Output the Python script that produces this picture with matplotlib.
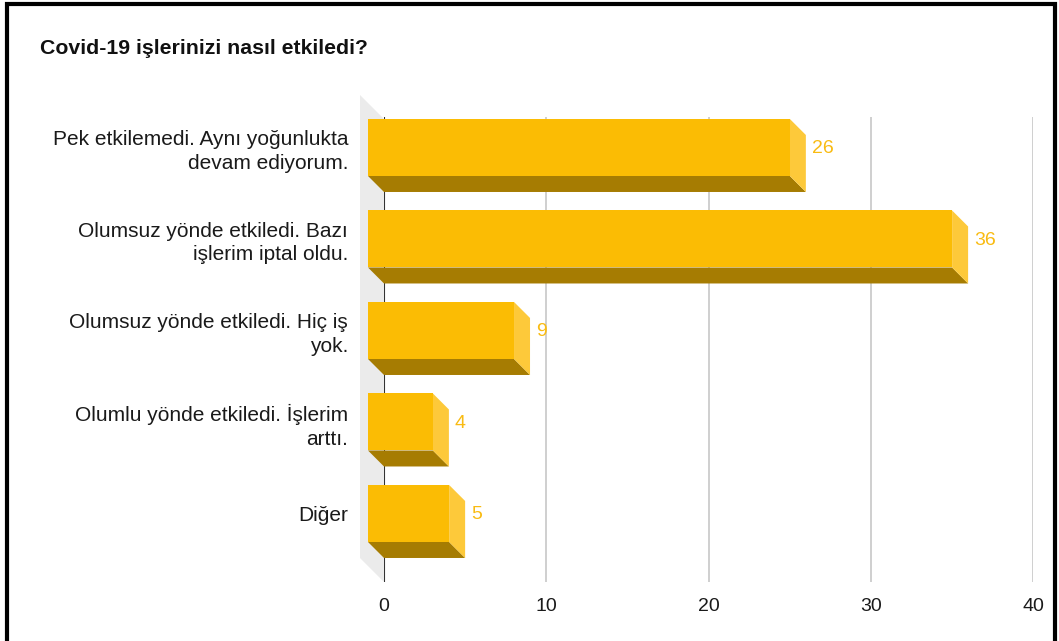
import matplotlib
matplotlib.use("Agg")
import matplotlib.pyplot as plt
from matplotlib.patches import Polygon, Rectangle

plt.rcParams["font.family"] = ["Liberation Sans", "DejaVu Sans"]

categories = [
    "Pek etkilemedi. Aynı yoğunlukta\ndevam ediyorum.",
    "Olumsuz yönde etkiledi. Bazı\nişlerim iptal oldu.",
    "Olumsuz yönde etkiledi. Hiç iş\nyok.",
    "Olumlu yönde etkiledi. İşlerim\narttı.",
    "Diğer",
]
values = [26, 36, 9, 4, 5]
x_ticks = [0, 10, 20, 30, 40]
title = "Covid-19 işlerinizi nasıl etkiledi?"

front_col = "#FBBC04"
side_col = "#FDC93A"
bottom_col = "#A67C02"
wall_col = "#EBEBEB"

W, H = 1059, 641
fig = plt.figure(figsize=(W / 100, H / 100), dpi=100)
ax = fig.add_axes([384 / W, 59 / H, 649 / W, 465 / H])
ax.set_xlim(0, 40)
ax.set_ylim(4.574, -0.508)

# pixel -> data conversion for the fake 3d depth
px_x = (649 / 40)
px_y = 91.5
depth = 16
dxd = depth / px_x
dyd = depth / px_y
wall = 24
h = 57 / px_y

# left wall
y0, y1 = ax.get_ylim()
ax.add_patch(Polygon([(0, y1 + 2 / px_y), (0, y0), (-wall / px_x, y0 - wall / px_y),
                      (-wall / px_x, y1 + 2 / px_y - wall / px_y)],
                     closed=True, facecolor=wall_col, edgecolor="none",
                     clip_on=False, zorder=0))

for t in x_ticks[1:]:
    ax.axvline(t, color="#cccccc", lw=1.3, zorder=0.5)
ax.axvline(0, color="#333333", lw=1.5, zorder=1)

for i, v in enumerate(values):
    top, bot = i - h / 2, i + h / 2
    # bottom face
    ax.add_patch(Polygon([(-dxd, bot - dyd), (v - dxd, bot - dyd), (v, bot), (0, bot)],
                         closed=True, facecolor=bottom_col, edgecolor="none",
                         clip_on=False, zorder=2))
    # side face
    ax.add_patch(Polygon([(v - dxd, top - dyd), (v, top), (v, bot), (v - dxd, bot - dyd)],
                         closed=True, facecolor=side_col, edgecolor="none",
                         clip_on=False, zorder=2))
    # front face
    ax.add_patch(Rectangle((-dxd, top - dyd), v, h, facecolor=front_col,
                           edgecolor="none", clip_on=False, zorder=3))
    ax.text(v + 6 / px_x, i - dyd + 1.5 / px_y, str(v), color="#F9BB12", fontsize=14,
            ha="left", va="center", zorder=4)

ax.set_yticks([i - dyd for i in range(len(categories))])
ax.set_yticklabels(categories, fontsize=15, color="#1a1a1a", linespacing=1.3)
ax.tick_params(axis="y", length=0, pad=25.9)
ax.set_xticks(x_ticks)
ax.set_xticklabels([str(t) for t in x_ticks], fontsize=14, color="#1a1a1a")
ax.tick_params(axis="x", length=0, pad=11.5)
for s in ax.spines.values():
    s.set_visible(False)

fig.text(40 / W, 1 - 49 / H, title, fontsize=15.3, fontweight="bold",
         ha="left", va="center", color="#111111")

# outer frame
fig.patches.append(Rectangle((7 / W, -0.05), 1048 / W, 1.05 - 4 / H,
                             transform=fig.transFigure, fill=False,
                             edgecolor="black", lw=3))

fig.savefig("out.png", dpi=100)
